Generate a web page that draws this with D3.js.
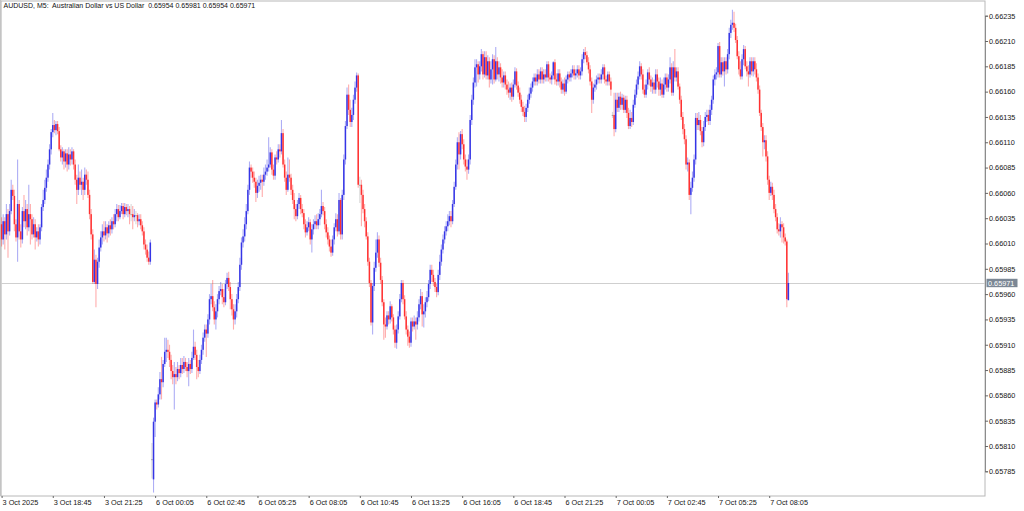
<!DOCTYPE html>
<html><head><meta charset="utf-8">
<script src="https://cdn.jsdelivr.net/npm/d3@7/dist/d3.min.js"></script>
<style>html,body{margin:0;padding:0;background:#fff;}svg{display:block}</style>
</head><body>
<svg id="chart" width="1024" height="511"></svg>
<script>
// AUDUSD M5 candles, prices in points (price x 100000), bar 0 = 3 Oct 16:05
const opens = [
66029,66014,66032,66019,66039,66022,66042,66063,66057,66029,
66016,66049,66022,66014,66042,66032,66044,66026,66039,66034,
66019,66029,66016,66022,66014,66026,66046,66053,66065,66075,
66088,66103,66120,66127,66122,66128,66121,66103,66095,66101,
66091,66099,66088,66098,66093,66101,66088,66073,66063,66075,
66068,66071,66063,66078,66073,66058,66039,66019,65972,65994,
65970,65992,66006,66016,66022,66018,66026,66020,66028,66024,
66032,66029,66039,66044,66036,66042,66047,66039,66046,66042,
66044,66039,66039,66036,66038,66038,66032,66034,66028,66022,
66009,66004,65996,65992,65797,65777,65834,65853,65851,65861,
65876,65873,65891,65903,65905,65903,65895,65884,65878,65881,
65878,65886,65882,65890,65886,65893,65888,65884,65891,65886,
65897,65908,65900,65888,65884,65895,65905,65917,65925,65921,
65935,65955,65958,65947,65935,65943,65955,65963,65965,65957,
65952,65970,65976,65967,65955,65945,65935,65943,65955,65967,
65989,66011,66017,66029,66042,66063,66085,66081,66075,66071,
66060,66067,66070,66073,66071,66078,66081,66085,66088,66100,
66083,66077,66095,66093,66103,66101,66119,66088,66075,66063,
66078,66075,66063,66053,66044,66037,66049,66055,66044,66040,
66029,66021,66026,66031,66014,66024,66029,66032,66028,66034,
66039,66047,66042,66029,66021,66014,66007,66001,66014,66026,
66034,66022,66053,66019,66058,66093,66126,66157,66142,66130,
66137,66152,66164,66176,66068,66068,66058,66044,66032,66017,
65992,65971,65932,65968,65986,66001,66014,65991,65974,65952,
65930,65928,65939,65935,65948,65937,65925,65912,65925,65938,
65955,65971,65955,65938,65925,65918,65912,65933,65928,65933,
65930,65937,65950,65958,65940,65943,65952,65957,65970,65984,
65979,65972,65967,65962,65979,65992,66004,66014,66022,66027,
66032,66037,66032,66049,66066,66088,66110,66098,66118,66108,
66093,66086,66083,66093,66132,66152,66169,66184,66187,66177,
66185,66197,66177,66194,66176,66190,66172,66182,66192,66172,
66190,66177,66184,66174,66169,66176,66167,66162,66159,66164,
66155,66167,66180,66166,66159,66152,66145,66140,66135,66144,
66152,66158,66164,66170,66174,66170,66177,66172,66180,66172,
66177,66174,66187,66174,66172,66176,66189,66172,66170,66178,
66170,66162,66168,66160,66172,66177,66174,66178,66182,66176,
66178,66182,66176,66180,66192,66199,66196,66189,66182,66170,
66152,66164,66167,66172,66174,66172,66177,66184,66172,66170,
66177,66170,66137,66137,66123,66152,66144,66155,66147,66154,
66142,66152,66139,66126,66134,66130,66147,66157,66167,66175,
66185,66177,66162,66157,66167,66179,66172,66165,66169,66162,
66177,66170,66162,66168,66157,66167,66174,66164,66172,66184,
66159,66184,66174,66180,66165,66152,66135,66123,66113,66088,
66090,66058,66065,66075,66093,66134,66127,66132,66121,66110,
66125,66135,66137,66131,66142,66152,66172,66177,66179,66205,
66177,66189,66180,66190,66182,66197,66218,66226,66228,66223,
66211,66195,66182,66175,66192,66202,66185,66180,66177,66190,
66180,66190,66182,66174,66162,66139,66125,66110,66112,66096,
66073,66060,66066,66058,66044,66036,66024,66022,66029,66026,
66016,66012,65954];
const highs = [
66036,66039,66036,66049,66044,66049,66073,66068,66063,66034,
66093,66053,66029,66046,66058,66053,66049,66068,66049,66039,
66036,66034,66026,66029,66029,66049,66063,66073,66083,66093,
66108,66123,66139,66132,66131,66131,66125,66107,66105,66103,
66103,66103,66105,66103,66105,66103,66093,66078,66088,66081,
66083,66075,66085,66083,66081,66063,66044,66024,66004,65999,
65996,66014,66022,66029,66032,66032,66029,66032,66034,66036,
66039,66044,66049,66048,66048,66050,66050,66050,66049,66049,
66047,66049,66047,66044,66042,66040,66039,66039,66032,66026,
66014,66009,66002,66014,65813,65838,65856,65856,65868,65883,
65898,65895,65917,65917,65915,65910,65900,65890,65893,65888,
65893,65890,65897,65897,65899,65897,65893,65897,65895,65903,
65925,65913,65905,65895,65900,65910,65922,65930,65930,65940,
65960,65970,65974,65953,65950,65960,65968,65972,65970,65965,
65974,65981,65982,65972,65960,65950,65950,65960,65972,65996,
66016,66024,66036,66049,66068,66091,66088,66085,66081,66075,
66073,66077,66078,66078,66085,66088,66093,66115,66105,66103,
66088,66098,66101,66108,66108,66132,66123,66093,66081,66095,
66093,66079,66068,66060,66049,66053,66060,66058,66049,66044,
66034,66032,66036,66034,66029,66034,66038,66039,66040,66044,
66063,66051,66046,66034,66026,66018,66014,66018,66030,66040,
66039,66060,66055,66063,66098,66131,66164,66167,66152,66144,
66157,66170,66179,66178,66076,66073,66063,66049,66036,66021,
65996,65974,65971,65992,66014,66021,66018,65996,65978,65955,
65937,65943,65943,65953,65950,65940,65929,65930,65943,65960,
65974,65974,65959,65943,65929,65923,65937,65937,65939,65937,
65943,65955,65965,65962,65950,65957,65963,65974,65989,65989,
65984,65976,65970,65984,65999,66009,66019,66027,66032,66039,
66042,66042,66053,66071,66093,66115,66120,66121,66123,66113,
66098,66093,66098,66137,66157,66174,66192,66192,66190,66190,
66202,66200,66200,66200,66196,66194,66190,66197,66196,66204,
66194,66190,66188,66182,66180,66180,66172,66170,66168,66169,
66172,66184,66183,66170,66164,66157,66150,66146,66148,66157,
66164,66168,66174,66178,66178,66182,66182,66184,66184,66182,
66182,66190,66190,66178,66180,66190,66192,66178,66182,66182,
66174,66172,66174,66176,66180,66180,66182,66186,66186,66182,
66186,66186,66184,66197,66202,66204,66200,66194,66186,66174,
66168,66172,66176,66178,66178,66182,66187,66187,66176,66180,
66180,66174,66140,66159,66159,66159,66159,66160,66158,66157,
66156,66156,66144,66142,66140,66152,66162,66172,66180,66190,
66188,66182,66167,66172,66182,66184,66176,66174,66172,66182,
66182,66174,66174,66172,66174,66178,66178,66177,66194,66188,
66190,66202,66184,66184,66168,66156,66140,66128,66117,66095,
66093,66071,66081,66098,66139,66139,66140,66137,66125,66131,
66140,66142,66142,66147,66156,66176,66182,66184,66208,66209,
66194,66194,66194,66194,66202,66223,66231,66241,66239,66227,
66215,66200,66190,66197,66206,66205,66190,66186,66194,66194,
66194,66194,66188,66178,66166,66142,66129,66117,66117,66101,
66077,66071,66070,66063,66049,66040,66030,66036,66032,66030,
66020,66014,65981];
const lows = [
66007,66009,66004,66014,65996,66018,66039,66053,66022,66012,
65992,66014,66006,66010,66026,66024,66018,66022,66009,66014,
66016,66004,66012,66007,66009,66022,66042,66049,66061,66071,
66083,66098,66115,66119,66117,66118,66101,66091,66088,66083,
66085,66081,66083,66087,66088,66083,66068,66049,66058,66063,
66058,66053,66058,66068,66055,66034,66014,65970,65970,65947,
65965,65986,66002,66009,66012,66014,66011,66016,66018,66020,
66024,66026,66032,66032,66034,66039,66034,66036,66038,66036,
66029,66032,66024,66032,66029,66026,66028,66024,66018,66004,
65999,65992,65989,65989,65778,65764,65819,65846,65848,65856,
65856,65868,65888,65893,65897,65888,65876,65871,65846,65871,
65874,65876,65878,65881,65882,65884,65878,65869,65881,65882,
65895,65895,65876,65878,65881,65891,65900,65913,65898,65917,
65930,65950,65943,65930,65925,65937,65950,65959,65950,65947,
65949,65965,65963,65945,65939,65925,65930,65937,65951,65963,
65984,66006,66012,66024,66039,66058,66075,66070,66065,66051,
66055,66061,66063,66056,66067,66073,66077,66081,66085,66078,
66073,66073,66088,66090,66095,66098,66085,66071,66058,66061,
66071,66058,66049,66034,66032,66034,66044,66039,66036,66024,
66016,66018,66022,66009,66001,66019,66024,66024,66024,66028,
66036,66038,66024,66016,66009,66002,65997,65998,66009,66022,
66017,66019,66014,66014,66053,66088,66123,66137,66125,66125,
66132,66148,66160,66065,66050,66027,66040,66026,66014,65988,
65967,65929,65920,65963,65982,65996,65987,65970,65948,65915,
65917,65925,65930,65931,65933,65920,65907,65906,65921,65935,
65952,65950,65935,65920,65909,65907,65908,65923,65925,65915,
65925,65933,65945,65928,65927,65937,65947,65953,65965,65972,
65968,65962,65957,65959,65974,65988,66000,66010,66018,66022,
66028,66026,66029,66046,66063,66083,66083,66093,66103,66088,
66081,66073,66079,66088,66127,66147,66164,66165,66169,66172,
66180,66172,66174,66172,66172,66164,66168,66167,66168,66170,
66172,66170,66168,66164,66164,66162,66157,66154,66152,66150,
66152,66164,66162,66155,66148,66140,66136,66130,66130,66140,
66148,66154,66160,66166,66166,66166,66168,66168,66168,66168,
66170,66170,66170,66168,66167,66172,66167,66166,66166,66164,
66158,66158,66156,66158,66168,66170,66170,66174,66172,66172,
66174,66172,66172,66176,66188,66192,66186,66178,66166,66139,
66148,66160,66162,66168,66168,66168,66172,66168,66166,66166,
66166,66156,66134,66116,66120,66140,66140,66142,66142,66139,
66139,66134,66123,66123,66125,66127,66144,66154,66162,66172,
66172,66158,66154,66154,66162,66166,66160,66158,66158,66158,
66164,66156,66156,66154,66154,66162,66160,66160,66168,66156,
66156,66170,66170,66162,66148,66132,66118,66108,66083,66081,
66053,66039,66061,66071,66088,66122,66122,66117,66105,66106,
66121,66130,66127,66127,66137,66148,66166,66172,66174,66174,
66174,66176,66165,66177,66178,66192,66213,66221,66219,66208,
66192,66177,66172,66172,66186,66182,66175,66165,66174,66176,
66175,66177,66170,66158,66136,66121,66096,66103,66091,66068,
66053,66057,66053,66040,66032,66020,66018,66016,66011,66010,
66008,65947,65954];
const closes = [
66014,66032,66019,66039,66022,66042,66063,66057,66029,66016,
66049,66022,66014,66042,66032,66044,66026,66039,66034,66019,
66029,66016,66022,66014,66026,66046,66053,66065,66075,66088,
66103,66120,66127,66122,66128,66121,66103,66095,66101,66091,
66099,66088,66098,66093,66101,66088,66073,66063,66075,66068,
66071,66063,66078,66073,66058,66039,66019,65972,65994,65970,
65992,66006,66016,66022,66018,66026,66020,66028,66024,66032,
66029,66039,66044,66036,66042,66047,66039,66046,66042,66044,
66039,66039,66036,66038,66038,66032,66034,66028,66022,66009,
66004,65996,65992,66011,65797,65834,65853,65851,65861,65876,
65873,65891,65903,65905,65903,65895,65884,65878,65881,65878,
65886,65882,65890,65886,65893,65888,65884,65891,65886,65897,
65908,65900,65888,65884,65895,65905,65917,65925,65921,65935,
65955,65958,65947,65935,65943,65955,65963,65965,65957,65952,
65970,65976,65967,65955,65945,65935,65943,65955,65967,65989,
66011,66017,66029,66042,66063,66085,66081,66075,66071,66060,
66067,66070,66073,66071,66078,66081,66085,66088,66100,66083,
66077,66095,66093,66103,66101,66119,66088,66075,66063,66078,
66075,66063,66053,66044,66037,66049,66055,66044,66040,66029,
66021,66026,66031,66014,66024,66029,66032,66028,66034,66039,
66047,66042,66029,66021,66014,66007,66001,66014,66026,66034,
66022,66053,66019,66058,66093,66126,66157,66142,66130,66137,
66152,66164,66176,66068,66068,66058,66044,66032,66017,65992,
65971,65932,65968,65986,66001,66014,65991,65974,65952,65930,
65928,65939,65935,65948,65937,65925,65912,65925,65938,65955,
65971,65955,65938,65925,65918,65912,65933,65928,65933,65930,
65937,65950,65958,65940,65943,65952,65957,65970,65984,65979,
65972,65967,65962,65979,65992,66004,66014,66022,66027,66032,
66037,66032,66049,66066,66088,66110,66098,66118,66108,66093,
66086,66083,66093,66132,66152,66169,66184,66187,66177,66185,
66197,66177,66194,66176,66190,66172,66182,66192,66172,66190,
66177,66184,66174,66169,66176,66167,66162,66159,66164,66155,
66167,66180,66166,66159,66152,66145,66140,66135,66144,66152,
66158,66164,66170,66174,66170,66177,66172,66180,66172,66177,
66174,66187,66174,66172,66176,66189,66172,66170,66178,66170,
66162,66168,66160,66172,66177,66174,66178,66182,66176,66178,
66182,66176,66180,66192,66199,66196,66189,66182,66170,66152,
66164,66167,66172,66174,66172,66177,66184,66172,66170,66177,
66170,66162,66137,66123,66152,66144,66155,66147,66154,66142,
66152,66139,66126,66134,66130,66147,66157,66167,66175,66185,
66177,66162,66157,66167,66179,66172,66165,66169,66162,66177,
66170,66162,66168,66157,66167,66174,66164,66172,66184,66159,
66184,66174,66180,66165,66152,66135,66123,66113,66088,66090,
66058,66065,66075,66093,66134,66127,66132,66121,66110,66125,
66135,66137,66131,66142,66152,66172,66177,66179,66205,66177,
66189,66180,66190,66182,66197,66218,66226,66228,66223,66211,
66195,66182,66175,66192,66202,66185,66180,66177,66190,66180,
66190,66182,66174,66162,66139,66125,66110,66112,66096,66073,
66060,66066,66058,66044,66036,66024,66022,66029,66026,66016,
66012,65955,65971];

const timeLabels = ["3 Oct 2025","3 Oct 18:45","3 Oct 21:25","6 Oct 00:05","6 Oct 02:45","6 Oct 05:25","6 Oct 08:05","6 Oct 10:45","6 Oct 13:25","6 Oct 16:05","6 Oct 18:45","6 Oct 21:25","7 Oct 00:05","7 Oct 02:45","7 Oct 05:25","7 Oct 08:05"];
const timeTickBars = [0,32,64,96,128,160,192,224,256,288,320,352,384,416,448,480];
const priceTicks = [66235,66210,66185,66160,66135,66110,66085,66060,66035,66010,65985,65960,65935,65910,65885,65860,65835,65810,65785];
const bidPrice = 65971;
const titleText = "AUDUSD, M5:  Australian Dollar vs US Dollar  0.65954 0.65981 0.65954 0.65971";

const FONT = "'Liberation Sans', Arial, sans-serif";
const frame = {left:1, top:1, right:985, bottom:496};
const svg = d3.select("#chart");
const x = d3.scaleLinear().domain([0, opens.length - 1]).range([1.6, 788.4]);
const y = d3.scaleLinear().domain([65785, 66235]).range([471.3, 15.7]);
const fmt = d => (d / 100000).toFixed(5);

const bars = opens.map((o, i) => ({i, o, h: highs[i], l: lows[i], c: closes[i]}));
const colorOf = d => d.c > d.o ? "#2a2ae4" : (d.c < d.o ? "#ff2626" : "#9a9a9a");

// frame
svg.append("rect").attr("x", frame.left).attr("y", frame.top)
  .attr("width", frame.right - frame.left).attr("height", frame.bottom - frame.top)
  .attr("fill", "#fff").attr("stroke", "#b8b8b8").attr("stroke-width", 1);
svg.append("line").attr("x1", 0.5).attr("x2", 0.5).attr("y1", 0).attr("y2", frame.bottom)
  .attr("stroke", "#c4c4c4").attr("stroke-width", 1.5);

// bid line
svg.append("line").attr("x1", frame.left).attr("x2", frame.right)
  .attr("y1", Math.round(y(bidPrice)) + 0.5).attr("y2", Math.round(y(bidPrice)) + 0.5)
  .attr("stroke", "#cfcfcf").attr("stroke-width", 1);

// candles
const g = svg.append("g");
g.selectAll("line.wick").data(bars).join("line").attr("class", "wick")
  .attr("x1", d => x(d.i)).attr("x2", d => x(d.i))
  .attr("y1", d => y(Math.max(d.h, d.o, d.c))).attr("y2", d => y(Math.min(d.l, d.o, d.c)))
  .attr("stroke", colorOf).attr("stroke-opacity", 0.38).attr("stroke-width", 1.1);
g.selectAll("rect.body").data(bars).join("rect").attr("class", "body")
  .attr("x", d => x(d.i) - 0.75).attr("width", 1.5)
  .attr("y", d => y(Math.max(d.o, d.c)))
  .attr("height", d => Math.max(1, y(Math.min(d.o, d.c)) - y(Math.max(d.o, d.c))))
  .attr("fill", colorOf).attr("fill-opacity", 0.92);

// price axis
const ya = svg.append("g").attr("transform", `translate(${frame.right},0)`)
  .call(d3.axisRight(y).tickValues(priceTicks).tickFormat(fmt).tickSize(3).tickPadding(1));
ya.select(".domain").attr("stroke", "#8c8c8c");
ya.selectAll(".tick line").attr("stroke", "#666");
ya.selectAll("text").attr("font-family", FONT).attr("font-size", 7.3).attr("fill", "#161616");

// time axis
const xa = svg.append("g").attr("transform", `translate(0,${frame.bottom})`)
  .call(d3.axisBottom(x).tickValues(timeTickBars).tickFormat((d, k) => timeLabels[k]).tickSize(2).tickPadding(2));
xa.select(".domain").remove();
xa.selectAll(".tick line").attr("stroke", "#666");
xa.selectAll("text").attr("font-family", FONT).attr("font-size", 7.3).attr("fill", "#161616")
  .attr("text-anchor", "start").attr("dx", 0.5);

// bid label
const by = y(bidPrice);
svg.append("rect").attr("x", frame.right + 1.5).attr("y", by - 4.2).attr("width", 31).attr("height", 8.4)
  .attr("fill", "#7b8795");
svg.append("text").attr("x", frame.right + 3).attr("y", by + 2.6).text(fmt(bidPrice))
  .attr("font-family", FONT).attr("font-size", 7.3).attr("fill", "#fff");

// title
svg.append("text").attr("x", 3.5).attr("y", 8.4).style("white-space", "pre").text(titleText)
  .attr("font-family", FONT).attr("font-size", 7.0).attr("fill", "#111");
</script>
</body></html>
